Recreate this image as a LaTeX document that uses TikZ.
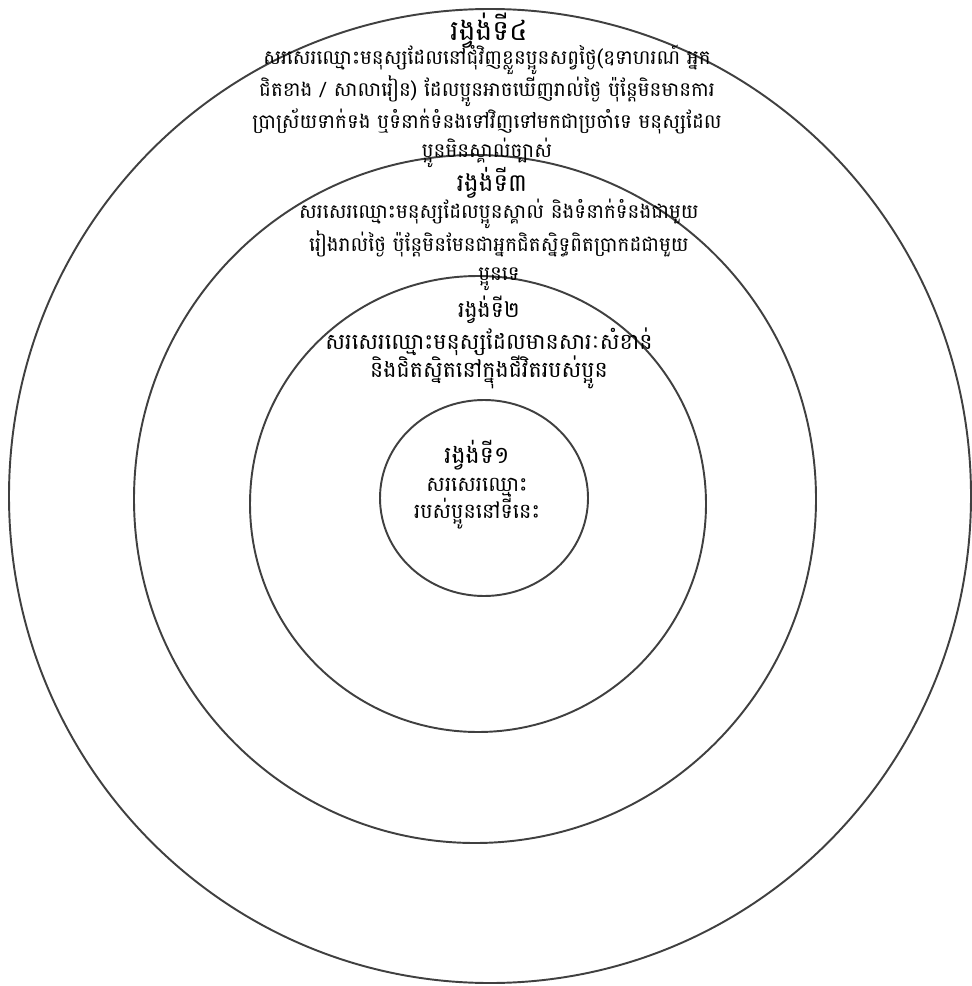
\documentclass[tikz,border=0pt]{standalone}
\usepackage{fontspec}
\newfontfamily\khmer[Script=Khmer]{Battambang}
\tikzset{
  ring/.style={draw=black!75, line width=1.1pt},
  ringtitle/.style={font=\khmer\fontsize{14}{18}\selectfont, align=center, inner sep=0pt},
  ringtext/.style={font=\khmer\fontsize{11.3}{16.4}\selectfont, align=center, inner sep=0pt},
  bigtext/.style={font=\khmer\fontsize{12.6}{16}\selectfont, align=center, inner sep=0pt},
}
\begin{document}
\begin{tikzpicture}[x=0.02cm, y=-0.02cm]
  \useasboundingbox (0,0) rectangle (972,986);
  % the four rings
  \coordinate (c4) at (490,496);
  \coordinate (c3) at (475,499);
  \coordinate (c2) at (478,504);
  \coordinate (c1) at (484,498);
  \draw[ring] (c4) ellipse [x radius=481, y radius=487];
  \draw[ring] (c3) ellipse [x radius=341, y radius=344];
  \draw[ring] (c2) circle [radius=228];
  \draw[ring] (c1) ellipse [x radius=104, y radius=98];

  % ring 4
  \node[ringtitle, font=\khmer\fontsize{16}{20}\selectfont] (t4) at (489,31) {រង្វង់ទី៤};
  \node[ringtext] (b4) at (487,106) {សរសេរឈ្មោះមនុស្សដែលនៅជុំវិញខ្លួនប្អូនសព្វថ្ងៃ(ឧទាហរណ៍ អ្នក\\
    ជិតខាង / សាលារៀន) ដែលប្អូនអាចឃើញរាល់ថ្ងៃ ប៉ុន្តែមិនមានការ\\
    ប្រាស្រ័យទាក់ទង ឬទំនាក់ទំនងទៅវិញទៅមកជាប្រចាំទេ មនុស្សដែល\\
    ប្អូនមិនស្គាល់ច្បាស់};

  % ring 3
  \node[ringtitle] (t3) at (492,183) {រង្វង់ទី៣};
  \node[ringtext] (b3) at (499,245) {សរសេរឈ្មោះមនុស្សដែលប្អូនស្គាល់ និងទំនាក់ទំនងជាមួយ\\
    រៀងរាល់ថ្ងៃ ប៉ុន្តែមិនមែនជាអ្នកជិតស្និទ្ធពិតប្រាកដជាមួយ\\
    ប្អូនទេ};

  % ring 2
  \node[ringtitle, font=\khmer\fontsize{12.5}{16}\selectfont] (t2) at (489,310) {រង្វង់ទី២};
  \node[bigtext] (b2) at (489,358) {សរសេរឈ្មោះមនុស្សដែលមានសារៈសំខាន់\\
    និងជិតស្និតនៅក្នុងជីវិតរបស់ប្អូន};

  % ring 1
  \node[ringtitle, font=\khmer\fontsize{13.5}{16}\selectfont] (t1) at (477,455) {រង្វង់ទី១};
  \node[bigtext, font=\khmer\fontsize{11.8}{15.5}\selectfont] (b1) at (477,504) {សរសេរឈ្មោះ\\
    របស់ប្អូននៅទីនេះ};
\end{tikzpicture}
\end{document}
